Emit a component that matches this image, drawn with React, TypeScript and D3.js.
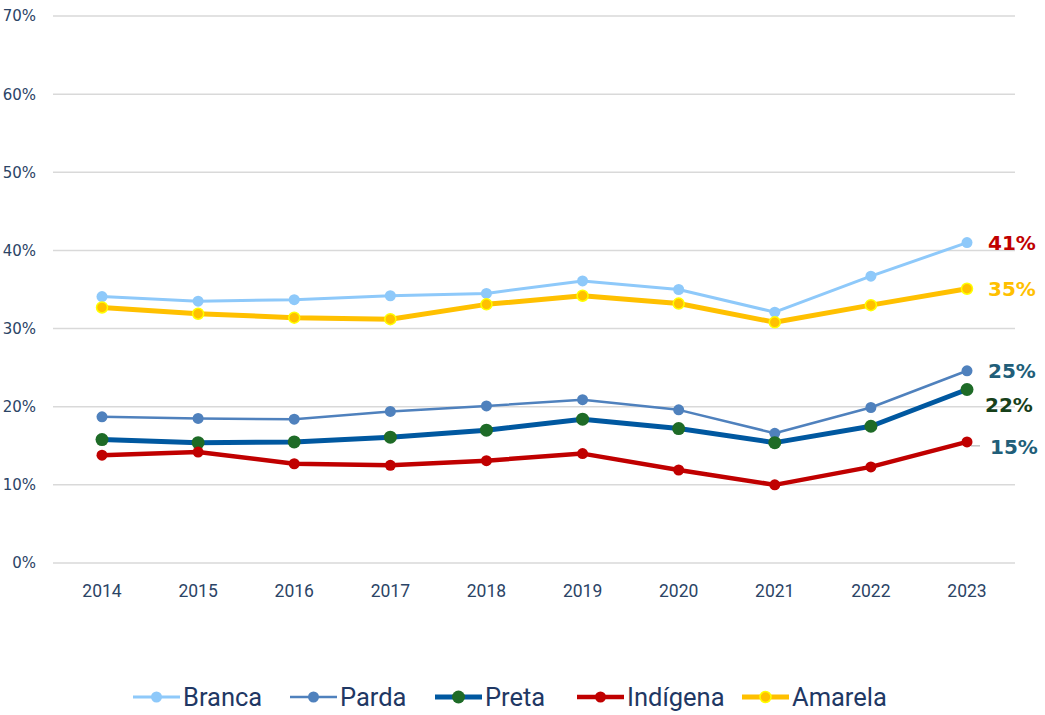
import React from "react";
import * as d3 from "d3";

const years = ["2014", "2015", "2016", "2017", "2018", "2019", "2020", "2021", "2022", "2023"];
const branca = [34.1, 33.5, 33.7, 34.2, 34.5, 36.1, 35.0, 32.1, 36.7, 41.0];
const parda = [18.7, 18.5, 18.4, 19.4, 20.1, 20.9, 19.6, 16.6, 19.9, 24.6];
const preta = [15.8, 15.4, 15.5, 16.1, 17.0, 18.4, 17.2, 15.4, 17.5, 22.2];
const indigena = [13.8, 14.2, 12.7, 12.5, 13.1, 14.0, 11.9, 10.0, 12.3, 15.5];
const amarela = [32.7, 31.9, 31.4, 31.2, 33.1, 34.2, 33.2, 30.8, 33.0, 35.1];
const yTicks = [0, 10, 20, 30, 40, 50, 60, 70];

const series = [
  { name: "Branca", values: branca, line: "#8ec9fa", marker: "#8ec9fa", stroke: "none", width: 3, r: 5.5, label: "41%", labelColor: "#c00000", labelDx: 21, labelDy: 0 },
  { name: "Parda", values: parda, line: "#4f81bd", marker: "#4f81bd", stroke: "none", width: 2.5, r: 5.5, label: "25%", labelColor: "#215e79", labelDx: 21, labelDy: 0 },
  { name: "Preta", values: preta, line: "#0058a0", marker: "#1e6b27", stroke: "none", width: 5, r: 6.5, label: "22%", labelColor: "#17401a", labelDx: 18, labelDy: 15 },
  { name: "Indígena", values: indigena, line: "#c00000", marker: "#c00000", stroke: "none", width: 4.5, r: 5.5, label: "15%", labelColor: "#215e79", labelDx: 23, labelDy: 5 },
  { name: "Amarela", values: amarela, line: "#ffc000", marker: "#ffc000", stroke: "#ffff00", width: 5, r: 5.5, label: "35%", labelColor: "#ffc000", labelDx: 21, labelDy: 0 },
];

const drawOrder = ["Branca", "Amarela", "Parda", "Preta", "Indígena"];

export default function App() {
  const W = 1045, H = 715;
  const x = d3.scalePoint<string>().domain(years).range([102, 967]);
  const y = d3.scaleLinear().domain([0, 70]).range([563, 16]);
  const line = d3.line<number>().x((_, i) => x(years[i])!).y((d) => y(d));
  const tickFont = "'DejaVu Sans', sans-serif";
  const axisColor = "#2b4466";

  const legendX = [133, 290, 435, 577, 742];

  return (
    <svg width={W} height={H} style={{ position: "absolute", left: 0, top: 0, background: "#fff" }}>
      {yTicks.map((t) => (
        <g key={t}>
          <line x1={53} x2={1015} y1={y(t)} y2={y(t)} stroke="#d9d9d9" strokeWidth={1.5} />
          <text x={36} y={y(t)} dy="0.36em" textAnchor="end" fontFamily={tickFont} fontSize={15} fill={axisColor}>{t}%</text>
        </g>
      ))}
      {years.map((yr) => (
        <text key={yr} x={x(yr)} y={597} textAnchor="middle" fontFamily="Roboto, sans-serif" fontSize={17.5} fill={axisColor}>{yr}</text>
      ))}
      {/* leader line for 15% */}
      <line x1={x("2023")!} y1={y(indigena[9])} x2={x("2023")! + 4} y2={y(indigena[9]) + 4} stroke="#a6a6a6" strokeWidth={1} />
      <line x1={x("2023")! + 4} y1={y(indigena[9]) + 4} x2={x("2023")! + 13} y2={y(indigena[9]) + 4} stroke="#a6a6a6" strokeWidth={1} />
      {drawOrder.map((n) => {
        const s = series.find((q) => q.name === n)!;
        return (
          <g key={n}>
            <path d={line(s.values)!} fill="none" stroke={s.line} strokeWidth={s.width} strokeLinejoin="round" />
            {s.values.map((v, i) => (
              <circle key={i} cx={x(years[i])} cy={y(v)} r={s.r} fill={s.marker} stroke={s.stroke} strokeWidth={s.stroke === "none" ? 0 : 1.5} />
            ))}
          </g>
        );
      })}
      {series.map((s) => (
        <text key={s.name} x={x("2023")! + s.labelDx} y={y(s.values[9]) + s.labelDy} dy="0.36em" fontFamily={tickFont} fontSize={20} fontWeight="bold" fill={s.labelColor}>{s.label}</text>
      ))}
      {series.map((s, i) => {
        const lx = legendX[i];
        const ly = 697;
        return (
          <g key={s.name}>
            <line x1={lx} x2={lx + 47} y1={ly} y2={ly} stroke={s.line} strokeWidth={s.width} />
            <circle cx={lx + 23.5} cy={ly} r={s.r} fill={s.marker} stroke={s.stroke} strokeWidth={s.stroke === "none" ? 0 : 1.5} />
            <text x={lx + 50} y={ly} dy="0.36em" fontFamily="Roboto, sans-serif" fontSize={25.5} fill="#1f3864">{s.name}</text>
          </g>
        );
      })}
    </svg>
  );
}
